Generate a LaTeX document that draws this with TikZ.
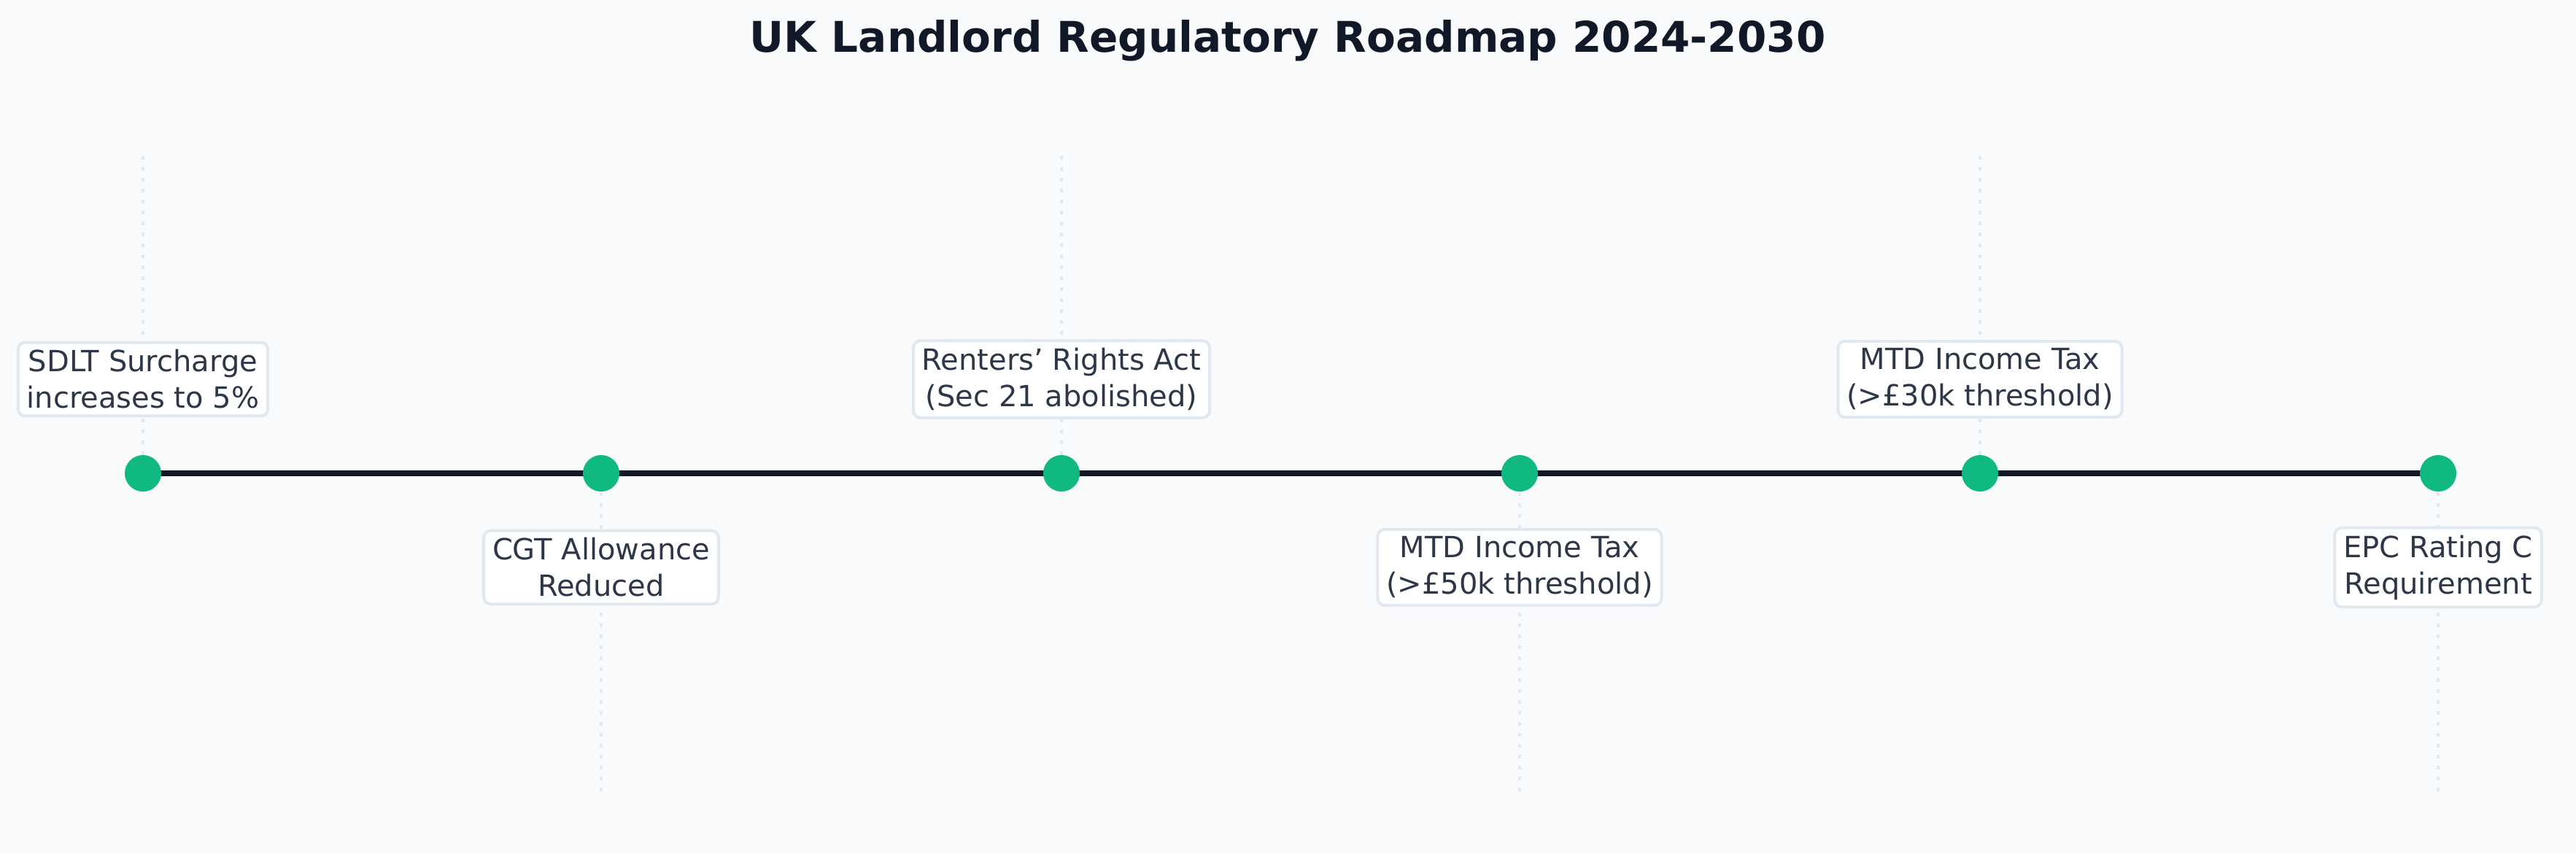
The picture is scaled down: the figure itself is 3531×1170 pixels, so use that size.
\documentclass[tikz,border=0pt]{standalone}
\usepackage{fontspec}
\setmainfont{DejaVu Sans}
\begin{document}
\begin{tikzpicture}[x=1pt,y=-1pt,
  lbl/.style={draw=bordc, line width=4pt, fill=white, rounded corners=10pt, align=center, text=textc, font=\fontsize{40}{50}\selectfont, inner xsep=12pt, inner ysep=10pt},
  dotn/.style={circle, fill=dotc, minimum size=50pt, inner sep=0pt},
  guide/.style={draw=bordc, line width=4pt, dash pattern=on 5pt off 10pt}]
\definecolor{bg}{HTML}{F8FAFC}
\definecolor{bordc}{HTML}{E2E8F0}
\definecolor{textc}{HTML}{2D3748}
\definecolor{dotc}{HTML}{10B981}
\definecolor{linec}{HTML}{111827}
\fill[bg] (0,0) rectangle (3531,1170);
\useasboundingbox (0,0) rectangle (3531,1170);
\node[font=\fontsize{58}{68}\selectfont\bfseries, text=linec] (title) at (1765,56) {UK Landlord Regulatory Roadmap 2024-2030};
\coordinate (ga) at (196,214); \coordinate (gb) at (824,1085);
\coordinate (gc) at (1455,214); \coordinate (gd) at (2083,1085);
\coordinate (ge) at (2714,214); \coordinate (gf) at (3342,1085);
\coordinate (pa) at (196,649); \coordinate (pb) at (824,649);
\coordinate (pc) at (1455,649); \coordinate (pd) at (2083,649);
\coordinate (pe) at (2714,649); \coordinate (pf) at (3342,649);
\foreach \n in {a,b,c,d,e,f}{ \draw[guide] (g\n) -- (p\n); }
\draw[linec, line width=8pt] (pa) -- (pf);
\foreach \n in {a,b,c,d,e,f}{ \node[dotn] (d\n) at (p\n) {}; }
\node[lbl] (la) at (196,520) {SDLT Surcharge\\increases to 5\%};
\node[lbl] (lb) at (824,778) {CGT Allowance\\Reduced};
\node[lbl] (lc) at (1455,520) {Renters{\char"0027} Rights Act\\(Sec 21 abolished)};
\node[lbl] (ld) at (2083,778) {MTD Income Tax\\(>£50k threshold)};
\node[lbl] (le) at (2714,520) {MTD Income Tax\\(>£30k threshold)};
\node[lbl] (lf) at (3342,778) {EPC Rating C\\Requirement};
\end{tikzpicture}
\end{document}
